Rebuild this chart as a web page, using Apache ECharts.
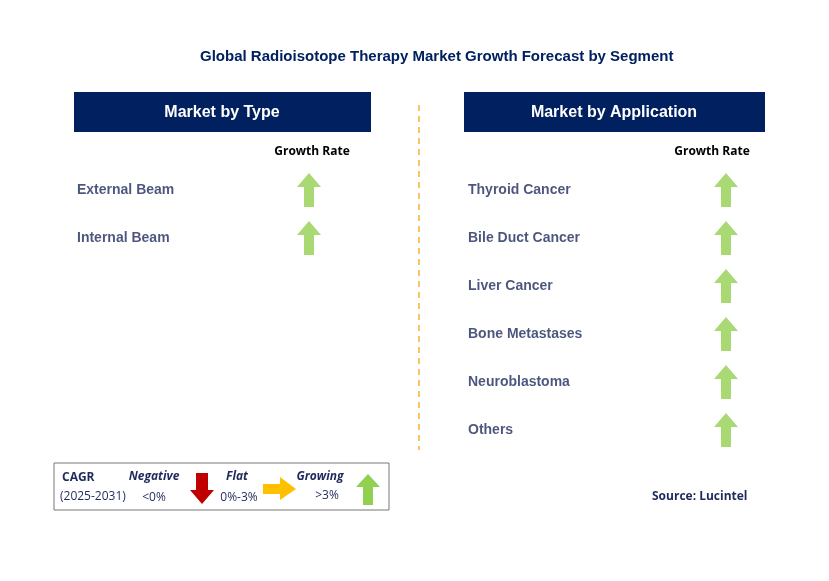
<!DOCTYPE html>
<html>
<head>
<meta charset="utf-8">
<script src="https://cdn.jsdelivr.net/npm/echarts@6/dist/echarts.min.js"></script>
<style>html,body{margin:0;padding:0;background:#fff}#c{width:829px;height:581px}</style>
</head>
<body>
<div id="c"></div>
<script>
const chart = echarts.init(document.getElementById('c'));

const typeCategories = ['External Beam', 'Internal Beam'];
const typeGrowth = ['up', 'up'];
const appCategories = ['Thyroid Cancer', 'Bile Duct Cancer', 'Liver Cancer', 'Bone Metastases', 'Neuroblastoma', 'Others'];
const appGrowth = ['up', 'up', 'up', 'up', 'up', 'up'];

const NAVY = '#002060';
const TXT = '#1f2a5c';
const GREEN = '#92d050';
const UP = 'path://M12,0 L24,14 L17,14 L17,34 L7,34 L7,14 L0,14 Z';

function rows(cats, arrowX) {
    return {
        names: cats.map((c, i) => [0, i, c]),
        arrows: cats.map((c, i) => [arrowX, i])
    };
}
const L = rows(typeCategories, 232);
const R = rows(appCategories, 258);

const font = 'Open Sans, Noto Sans, sans-serif';
const arial = 'Liberation Sans, Arial, sans-serif';
const axisOff = { show: false };
const nameLabel = { show: true, position: 'right', distance: 0, formatter: p => p.data[2], color: TXT, fontWeight: 'bold', fontSize: 14, fontFamily: arial };

chart.setOption({
    animation: false,
    grid: [
        { left: 77, top: 190, width: 300, height: 240 },
        { left: 468, top: 190, width: 300, height: 240 }
    ],
    xAxis: [
        { gridIndex: 0, type: 'value', min: 0, max: 300, ...axisOff },
        { gridIndex: 1, type: 'value', min: 0, max: 300, ...axisOff }
    ],
    yAxis: [
        { gridIndex: 0, type: 'value', min: 0, max: 5, inverse: true, ...axisOff },
        { gridIndex: 1, type: 'value', min: 0, max: 5, inverse: true, ...axisOff }
    ],
    series: [
        { type: 'scatter', xAxisIndex: 0, yAxisIndex: 0, data: L.names, symbolSize: 0, itemStyle: { color: 'transparent' }, label: nameLabel },
        { type: 'scatter', xAxisIndex: 0, yAxisIndex: 0, data: L.arrows, symbol: UP, symbolSize: [24, 34], itemStyle: { color: GREEN } },
        { type: 'scatter', xAxisIndex: 1, yAxisIndex: 1, data: R.names, symbolSize: 0, itemStyle: { color: 'transparent' }, label: nameLabel },
        { type: 'scatter', xAxisIndex: 1, yAxisIndex: 1, data: R.arrows, symbol: UP, symbolSize: [24, 34], itemStyle: { color: GREEN } }
    ],
    graphic: [
        { type: 'text', left: 200, top: 49, style: { text: 'Global Radioisotope Therapy Market Growth Forecast by Segment', fill: NAVY, font: 'bold 15px ' + arial } },
        { type: 'rect', shape: { x: 74, y: 92, width: 297, height: 40 }, style: { fill: NAVY } },
        { type: 'text', x: 222, y: 113, style: { text: 'Market by Type', fill: '#fff', font: 'bold 16px ' + arial, align: 'center', verticalAlign: 'middle' } },
        { type: 'rect', shape: { x: 464, y: 92, width: 301, height: 40 }, style: { fill: NAVY } },
        { type: 'text', x: 614, y: 113, style: { text: 'Market by Application', fill: '#fff', font: 'bold 16px ' + arial, align: 'center', verticalAlign: 'middle' } },
        { type: 'text', x: 312, y: 152, style: { text: 'Growth Rate', fill: '#000', font: 'bold 12px ' + font, align: 'center', verticalAlign: 'middle' } },
        { type: 'text', x: 712, y: 152, style: { text: 'Growth Rate', fill: '#000', font: 'bold 12px ' + font, align: 'center', verticalAlign: 'middle' } },
        { type: 'line', shape: { x1: 419, y1: 105, x2: 419, y2: 450 }, style: { stroke: '#f5b335', lineWidth: 1.5, lineDash: [6, 5] } },
        // legend
        { type: 'rect', shape: { x: 54, y: 463, width: 335, height: 47 }, style: { fill: '#fff', stroke: '#777', lineWidth: 1 } },
        { type: 'text', x: 62, y: 478, style: { text: 'CAGR', fill: TXT, font: 'bold 12px ' + font, verticalAlign: 'middle' } },
        { type: 'text', x: 60, y: 497, style: { text: '(2025-2031)', fill: TXT, font: '12px ' + font, verticalAlign: 'middle' } },
        { type: 'text', x: 154, y: 477, style: { text: 'Negative', fill: TXT, font: 'italic bold 12px ' + font, align: 'center', verticalAlign: 'middle' } },
        { type: 'text', x: 154, y: 498, style: { text: '<0%', fill: TXT, font: '12px ' + font, align: 'center', verticalAlign: 'middle' } },
        { type: 'polygon', shape: { points: [[196, 473], [208, 473], [208, 490], [214, 490], [202, 504], [190, 490], [196, 490]] }, style: { fill: '#c00000' } },
        { type: 'text', x: 237, y: 477, style: { text: 'Flat', fill: TXT, font: 'italic bold 12px ' + font, align: 'center', verticalAlign: 'middle' } },
        { type: 'text', x: 239, y: 498, style: { text: '0%-3%', fill: TXT, font: '12px ' + font, align: 'center', verticalAlign: 'middle' } },
        { type: 'polygon', shape: { points: [[263, 484], [280, 484], [280, 477], [296, 489], [280, 500], [280, 494], [263, 494]] }, style: { fill: '#ffc000' } },
        { type: 'text', x: 320, y: 477, style: { text: 'Growing', fill: TXT, font: 'italic bold 12px ' + font, align: 'center', verticalAlign: 'middle' } },
        { type: 'text', x: 327, y: 496, style: { text: '>3%', fill: TXT, font: '12px ' + font, align: 'center', verticalAlign: 'middle' } },
        { type: 'polygon', shape: { points: [[368, 474], [380, 487], [373, 487], [373, 505], [363, 505], [363, 487], [356, 487]] }, style: { fill: GREEN } },
        { type: 'text', x: 652, y: 497, style: { text: 'Source: Lucintel', fill: TXT, font: 'bold 12px ' + font, verticalAlign: 'middle' } }
    ]
});
</script>
</body>
</html>
